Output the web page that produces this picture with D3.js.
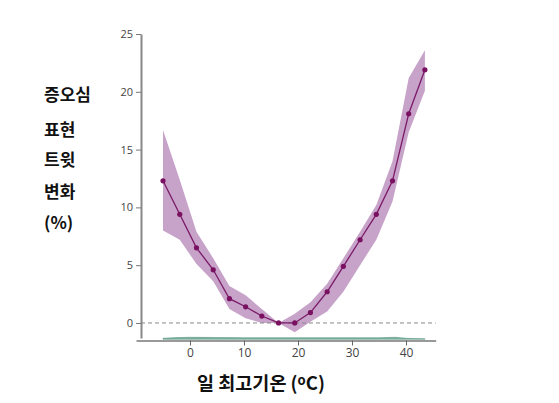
<!DOCTYPE html>
<html>
<head>
<meta charset="utf-8">
<script src="https://cdn.jsdelivr.net/npm/d3@7"></script>
<style>
  body { margin: 0; background: #fff; }
  svg { display: block; }
  .tick text { font-family: "Open Sans", "Noto Sans", sans-serif; fill: #444; }
  .ttl { font-family: "Noto Sans CJK KR", sans-serif; font-weight: bold; fill: #111; }
</style>
</head>
<body>
<script>
'use strict';

var width = 559, height = 403;

// daily max temperature (°C)
var temps = [-5, -1.9, 1.2, 4.3, 7.3, 10.3, 13.3, 16.4, 19.4, 22.3, 25.4, 28.4, 31.5, 34.5, 37.5, 40.5, 43.5];
// change in hate-speech tweets (%)
var change = [12.3, 9.4, 6.5, 4.6, 2.1, 1.4, 0.6, 0, 0, 0.9, 2.7, 4.9, 7.2, 9.4, 12.3, 18.1, 21.9];
var upper = [16.7, 12.4, 7.9, 5.6, 3.2, 2.4, 1.2, 0, 0.8, 1.8, 3.4, 5.6, 7.9, 10.2, 14.0, 21.2, 23.6];
var lower = [8.0, 7.2, 5.1, 3.6, 1.2, 0.4, 0, 0, -0.8, 0.1, 1.0, 2.7, 5.0, 7.2, 10.5, 16.5, 20.1];

// temperature distribution strip along the x axis
var distTemps = [-5, 0, 5, 10, 15, 20, 25, 30, 35, 38, 40, 43.5];
var distFreq = [0.5, 1, 0.9, 0.8, 0.8, 0.8, 0.8, 0.8, 0.8, 1, 0.5, 0.3];

var yTicks = [0, 5, 10, 15, 20, 25];
var xTicks = [0, 10, 20, 30, 40];
var titleLines = ['증오심', '표현', '트윗', '변화', '(%)'];

var svg = d3.select('body').append('svg')
  .attr('width', width)
  .attr('height', height);

var x = d3.scaleLinear().domain([-10, 45.5]).range([136, 435.7]);
var y = d3.scaleLinear().domain([-1.3, 25]).range([338, 34]);
var dy = d3.scaleLinear().domain([0, 1]).range([339.3, 337.3]);

var rows = temps.map(function(t, i) {
  return { t: t, v: change[i], hi: upper[i], lo: lower[i] };
});

// confidence band
svg.append('path')
  .datum(rows)
  .attr('fill', '#c7a3c9')
  .attr('d', d3.area()
    .x(function(d) { return x(d.t); })
    .y0(function(d) { return y(d.lo); })
    .y1(function(d) { return y(d.hi); }));

// zero reference line
svg.append('line')
  .attr('x1', x(-10) + 5).attr('x2', x(45.5))
  .attr('y1', y(0)).attr('y2', y(0))
  .attr('stroke', '#888')
  .attr('stroke-width', 1)
  .attr('stroke-dasharray', '4,3');

svg.append('path')
  .datum(rows)
  .attr('fill', 'none')
  .attr('stroke', '#7a1a68')
  .attr('stroke-width', 1.3)
  .attr('d', d3.line()
    .x(function(d) { return x(d.t); })
    .y(function(d) { return y(d.v); }));

svg.selectAll('.pt')
  .data(rows)
  .enter()
  .append('circle')
  .attr('class', 'pt')
  .attr('cx', function(d) { return x(d.t); })
  .attr('cy', function(d) { return y(d.v); })
  .attr('r', 2.6)
  .attr('fill', '#7a1060');

// temperature distribution strip
svg.append('path')
  .datum(distTemps.map(function(t, i) { return [t, distFreq[i]]; }))
  .attr('fill', '#7db3a0')
  .attr('stroke', '#4f8c78')
  .attr('stroke-width', 0.5)
  .attr('d', d3.area()
    .curve(d3.curveMonotoneX)
    .x(function(d) { return x(d[0]); })
    .y0(dy(0))
    .y1(function(d) { return dy(d[1]); }));

// axes
var yAxis = svg.append('g')
  .attr('transform', 'translate(' + 141 + ',0)')
  .call(d3.axisLeft(y).tickValues(yTicks).tickSize(5).tickSizeOuter(0).tickPadding(3));
yAxis.select('.domain').attr('stroke', '#888').attr('stroke-width', 2);
yAxis.selectAll('.tick line').attr('stroke', '#777');
yAxis.selectAll('.tick text').style('font-size', '11px');

var xAxis = svg.append('g')
  .attr('transform', 'translate(0,' + 340.5 + ')')
  .call(d3.axisBottom(x).tickValues(xTicks).tickSize(5).tickSizeOuter(0).tickPadding(3));
xAxis.select('.domain').attr('stroke', '#777').attr('stroke-width', 1.3);
xAxis.selectAll('.tick line').attr('stroke', '#666');
xAxis.selectAll('.tick text').style('font-size', '12px');

// titles
svg.selectAll('.ytl')
  .data(titleLines)
  .enter()
  .append('text')
  .attr('class', 'ttl')
  .attr('x', 44)
  .attr('y', function(d, i) { return [101, 136, 166, 198, 229][i]; })
  .style('font-size', '17px')
  .text(function(d) { return d; });

var xt = svg.append('text')
  .attr('class', 'ttl')
  .attr('x', 261)
  .attr('y', 390)
  .attr('text-anchor', 'middle')
  .style('font-size', '18.5px');
xt.append('tspan').text('일 최고기온 (');
xt.append('tspan').attr('dy', -5).style('font-size', '13px').text('o');
xt.append('tspan').attr('dy', 5).text('C)');
</script>
</body>
</html>
